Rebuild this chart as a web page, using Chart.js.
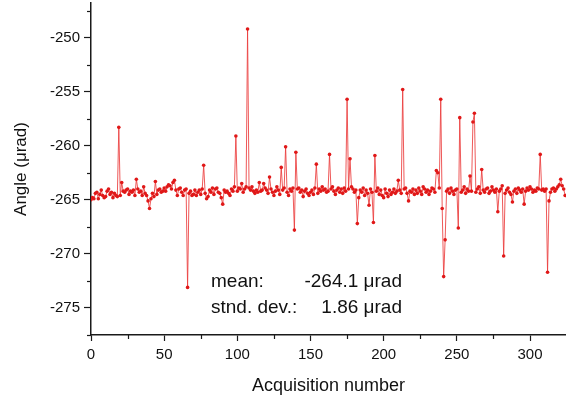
<!DOCTYPE html>
<html>
<head>
<meta charset="utf-8">
<script src="https://cdn.jsdelivr.net/npm/chart.js@4.4.1/dist/chart.umd.min.js"></script>
<style>
html,body{margin:0;padding:0;background:#fff;}
#wrap{width:566px;height:401px;position:relative;}
</style>
</head>
<body>
<div id="wrap"><canvas id="c" width="566" height="401"></canvas></div>
<script>
// Angle values (µrad) per acquisition number 0..324
const angles = [
-265.0,-264.8,-264.9,-264.4,-264.3,-264.9,-264.5,-264.1,-264.6,-264.8,
-264.7,-264.2,-264.0,-264.5,-264.3,-264.8,-264.4,-264.6,-264.7,-258.3,
-264.6,-263.4,-264.2,-264.3,-264.1,-264.0,-264.5,-264.2,-264.3,-264.1,
-264.6,-263.1,-264.0,-264.3,-264.2,-264.6,-263.8,-264.4,-264.6,-265.1,
-265.8,-264.9,-264.4,-264.7,-263.3,-264.5,-264.1,-264.0,-264.3,-264.2,
-263.9,-264.2,-263.8,-263.6,-263.7,-264.0,-263.4,-263.2,-264.1,-264.6,
-264.0,-263.9,-264.3,-264.6,-264.1,-264.0,-273.1,-264.4,-264.2,-264.6,
-264.5,-264.1,-264.6,-264.3,-264.1,-264.5,-264.0,-261.8,-264.4,-264.9,
-264.7,-264.1,-264.3,-263.9,-264.5,-264.0,-263.9,-264.3,-264.4,-264.8,
-265.4,-264.1,-264.3,-264.2,-264.4,-264.6,-264.0,-264.2,-263.8,-259.1,
-264.2,-263.9,-264.0,-263.5,-264.3,-264.0,-263.8,-249.2,-263.9,-264.1,
-263.8,-264.2,-264.4,-264.1,-264.3,-263.4,-264.2,-264.1,-263.5,-263.9,
-264.1,-264.4,-262.9,-264.0,-264.3,-264.6,-264.2,-263.8,-264.1,-264.5,
-262.0,-264.1,-263.9,-260.1,-264.3,-264.6,-264.0,-264.2,-263.9,-267.8,
-260.6,-264.0,-263.9,-264.3,-264.1,-264.7,-264.2,-264.0,-264.4,-264.6,
-264.3,-264.1,-264.5,-263.9,-261.7,-264.4,-264.0,-264.2,-263.8,-264.1,
-264.0,-264.3,-264.2,-260.8,-264.0,-263.8,-264.2,-264.5,-264.1,-263.9,
-264.3,-264.0,-264.4,-263.9,-264.2,-255.7,-264.0,-261.2,-263.8,-264.0,
-264.3,-264.1,-267.2,-264.8,-264.1,-264.3,-263.9,-264.6,-264.1,-264.4,
-265.5,-264.0,-264.3,-267.1,-260.9,-264.2,-263.9,-264.5,-264.1,-264.6,
-264.8,-264.0,-264.4,-264.7,-264.1,-264.5,-264.3,-264.0,-264.4,-264.2,
-263.2,-264.1,-264.4,-254.8,-264.0,-263.9,-264.4,-265.1,-264.2,-264.3,
-264.0,-264.5,-264.1,-264.4,-263.9,-264.2,-264.5,-263.8,-264.0,-264.3,
-264.1,-264.5,-264.2,-263.9,-264.0,-264.3,-262.3,-262.5,-263.9,-255.7,
-265.8,-272.1,-268.7,-264.2,-264.0,-264.4,-263.9,-264.2,-264.5,-264.1,
-264.0,-267.6,-257.4,-264.3,-264.1,-263.8,-264.4,-264.0,-264.2,-262.8,
-264.2,-257.8,-257.0,-264.3,-264.0,-263.8,-264.4,-262.2,-264.1,-264.3,
-264.0,-263.9,-264.4,-264.2,-263.8,-264.1,-264.3,-264.0,-266.1,-264.2,
-264.0,-263.7,-270.2,-264.4,-264.1,-263.9,-264.3,-264.5,-265.2,-264.2,
-264.0,-264.4,-263.9,-264.1,-264.3,-264.0,-265.4,-264.2,-263.9,-264.1,
-263.8,-264.0,-264.3,-264.1,-264.2,-263.9,-264.0,-260.8,-264.1,-264.0,
-264.2,-264.0,-271.7,-265.1,-264.3,-264.0,-263.9,-264.2,-264.0,-263.8,
-263.6,-263.1,-263.7,-264.0,-264.6
];
const acquisitionNumbers = angles.map((_, i) => i);
const xTickValues = [0, 50, 100, 150, 200, 250, 300];
const yTickValues = [-275, -270, -265, -260, -255, -250];
const statLabels = ["mean:", "stnd. dev.:"];
const statValues = ["-264.1 μrad", "1.86 μrad"];

const FONT = '"Liberation Sans", Arial, sans-serif';
const AX = '#1a1a1a';

const extras = {
  id: 'extras',
  afterDraw(chart) {
    const ctx = chart.ctx;
    const xs = chart.scales.x, ys = chart.scales.y;
    const a = chart.chartArea;
    ctx.save();
    ctx.strokeStyle = AX;
    ctx.lineWidth = 1.2;
    for (let v = 25; v < xs.max; v += 50) {
      const px = Math.round(xs.getPixelForValue(v)) + 0.5;
      ctx.beginPath(); ctx.moveTo(px, a.bottom); ctx.lineTo(px, a.bottom + 4); ctx.stroke();
    }
    for (let v = -277.5; v < ys.max; v += 5) {
      const py = Math.round(ys.getPixelForValue(v)) + 0.5;
      ctx.beginPath(); ctx.moveTo(a.left - 4, py); ctx.lineTo(a.left, py); ctx.stroke();
    }
    ctx.fillStyle = '#111';
    ctx.font = '19px ' + FONT;
    ctx.textBaseline = 'alphabetic';
    const rows = [287, 313];
    for (let i = 0; i < statLabels.length; i++) {
      ctx.textAlign = 'left';
      ctx.fillText(statLabels[i], 211, rows[i]);
      ctx.textAlign = 'right';
      ctx.fillText(statValues[i], 402, rows[i]);
    }
    ctx.restore();
  }
};

new Chart(document.getElementById('c'), {
  type: 'line',
  data: {
    labels: acquisitionNumbers,
    datasets: [{
      data: angles.map((v, i) => ({x: acquisitionNumbers[i], y: v})),
      borderColor: 'rgba(235,60,60,0.85)',
      borderWidth: 1,
      pointRadius: 1.8,
      pointBackgroundColor: '#e01818',
      pointBorderWidth: 0,
      tension: 0,
      fill: false
    }]
  },
  options: {
    responsive: false,
    animation: false,
    events: [],
    layout: { autoPadding: false, padding: { top: 3, right: 0, left: 0, bottom: 0 } },
    plugins: { legend: { display: false }, tooltip: { enabled: false } },
    scales: {
      x: {
        type: 'linear',
        min: 0, max: 324.6,
        afterFit(s) { s.height = 66; s.paddingLeft = 0; s.paddingRight = 0; },
        afterBuildTicks(s) { s.ticks = xTickValues.map(v => ({value: v})); },
        grid: { display: true, drawOnChartArea: false, drawTicks: true, tickLength: 6, tickColor: AX, tickWidth: 1.2 },
        border: { display: true, color: AX, width: 1.5 },
        ticks: { color: '#111', font: { family: FONT, size: 15 }, padding: 5, maxRotation: 0 },
        title: { display: true, text: 'Acquisition number', color: '#111', font: { family: FONT, size: 18 }, padding: { top: 0, bottom: 4 } }
      },
      y: {
        type: 'linear',
        min: -277.5, max: -246.8,
        afterFit(s) { s.width = 91; s.paddingTop = 0; s.paddingBottom = 0; },
        afterBuildTicks(s) { s.ticks = yTickValues.map(v => ({value: v})); },
        grid: { display: true, drawOnChartArea: false, drawTicks: true, tickLength: 7, tickColor: AX, tickWidth: 1.2 },
        border: { display: true, color: AX, width: 1.5 },
        ticks: { color: '#111', font: { family: FONT, size: 15 }, padding: 4 },
        title: { display: true, text: 'Angle (μrad)', color: '#111', font: { family: FONT, size: 17 }, padding: { top: 11, bottom: 0 } }
      }
    }
  },
  plugins: [extras]
});
</script>
</body>
</html>
